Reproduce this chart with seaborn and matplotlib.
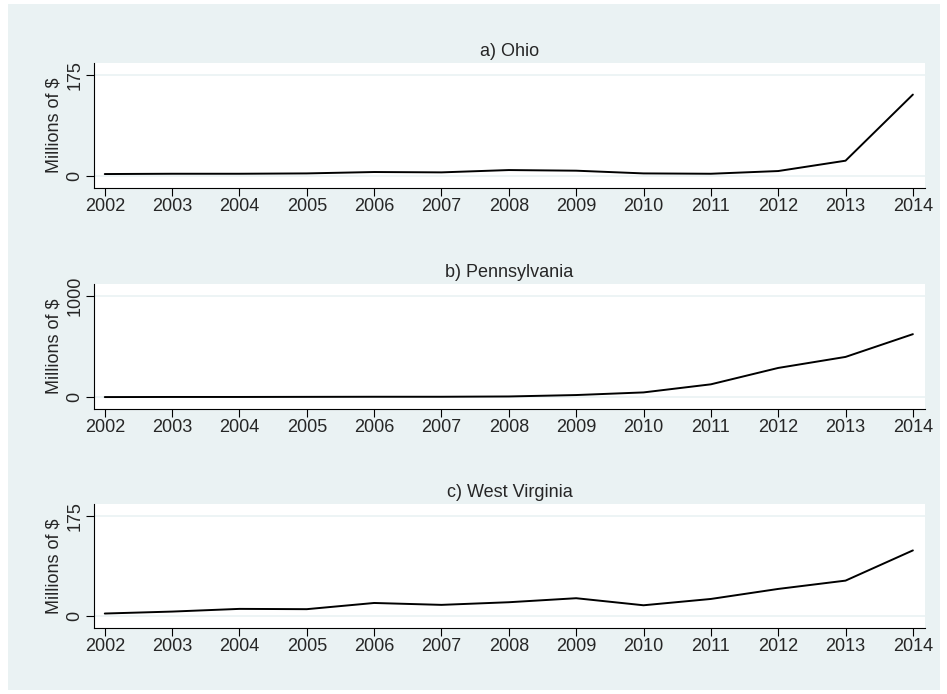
#!/usr/bin/env python
"""
  Annual spending by state, three stacked panels
"""

import matplotlib
matplotlib.use('Agg')
import matplotlib.pyplot as plt
import matplotlib.patches as patches
import seaborn as sns
import pandas as pd

YEARS = list(range(2002, 2015))
OHIO = [3.5, 4, 4, 4.6, 7, 6.4, 10.4, 9.3, 4.6, 4, 8.7, 26.6, 141]
PENN = [0, 1, 1, 2, 3, 3, 6, 20, 46, 126, 288, 397, 622]
WV = [4.6, 8, 12.7, 12.2, 23, 19.7, 24.3, 31.3, 19, 30, 47.5, 62, 114.7]

TITLES = ["a) Ohio", "b) Pennsylvania", "c) West Virginia"]
YTOPS = [175, 1000, 175]
SERIES = [OHIO, PENN, WV]

BG = "#eaf2f3"


def main():
  sns.set_style("white")
  plt.rcParams['font.family'] = ['Liberation Sans', 'DejaVu Sans']

  fig = plt.figure(figsize=(9.47, 6.94), dpi=100, facecolor="white")
  fig.patches.append(patches.Rectangle((8 / 947, 4 / 694), 932 / 947, 686 / 694,
                                       transform=fig.transFigure, facecolor=BG,
                                       edgecolor="none", zorder=-10))

  # panel boxes in pixels: top, bottom
  boxes = [(63, 188), (284, 409), (504, 628)]
  for (top, bot), title, ytop, vals in zip(boxes, TITLES, YTOPS, SERIES):
    ax = fig.add_axes([94 / 947, 1 - bot / 694, 831 / 947, (bot - top) / 694])
    df = pd.DataFrame({"year": YEARS, "value": vals})
    sns.lineplot(data=df, x="year", y="value", ax=ax, color="black", linewidth=1.4)
    ax.set_facecolor("white")
    ax.set_xlim(2001.84, 2014.18)
    pad = ytop * 0.118
    ax.set_ylim(-pad, ytop + pad)
    ax.set_xticks(YEARS)
    ax.set_xticklabels([str(y) for y in YEARS], fontsize=13)
    ax.set_yticks([0, ytop])
    ax.set_yticklabels(["0", str(ytop)], fontsize=13, rotation=90, va="center")
    for v in [0, ytop]:
      ax.axhline(v, color=BG, linewidth=1.2, zorder=0)
    ax.tick_params(axis="both", direction="out", length=5.5, width=0.8, color="black",
                   bottom=True, left=True, pad=2)
    for side in ["top", "right"]:
      ax.spines[side].set_visible(False)
    for side in ["left", "bottom"]:
      ax.spines[side].set_color("black")
      ax.spines[side].set_linewidth(0.8)
    ax.set_xlabel("")
    ax.set_ylabel("Millions of $", fontsize=13, labelpad=3)
    ax.set_title(title, fontsize=13, pad=5)

  fig.savefig("out.png", dpi=100, facecolor=fig.get_facecolor())


if __name__ == "__main__":
  main()
